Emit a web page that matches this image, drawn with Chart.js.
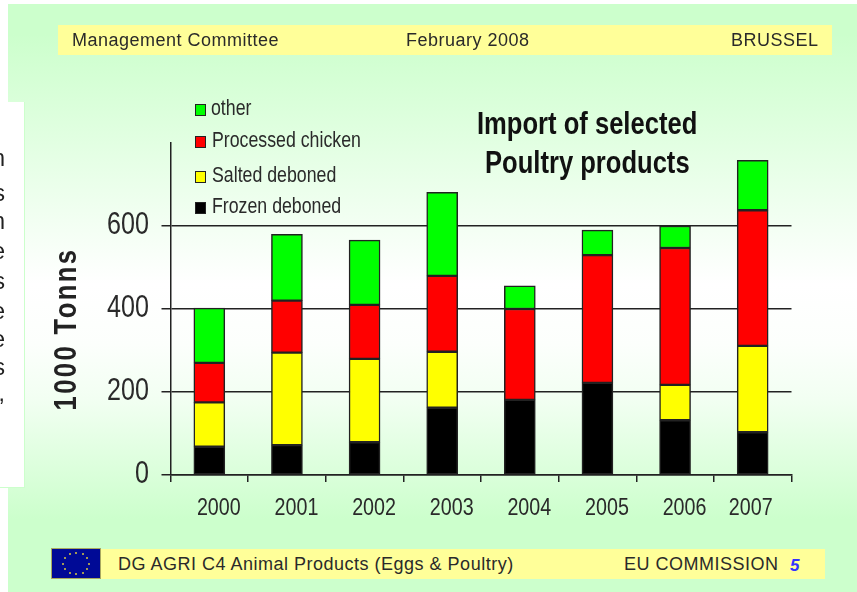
<!DOCTYPE html>
<html><head><meta charset="utf-8">
<script src="https://cdn.jsdelivr.net/npm/chart.js@4"></script>
<style>
html,body{margin:0;padding:0;background:#fff;width:857px;height:592px;overflow:hidden}
#stage{position:relative;width:857px;height:592px;overflow:hidden;filter:blur(.45px);font-family:"Liberation Sans",Arial,sans-serif;color:#2a2a2a}
#panel{position:absolute;left:8px;top:4px;width:849px;height:588px;background:linear-gradient(180deg,#ccffcc 0px,#ccffcc 30px,#ffffff 280px,#fcfffc 340px,#f2fff2 395px,#ccffcc 515px)}
.bar{position:absolute;background:#ffff99}
.t{position:absolute;white-space:nowrap;line-height:1;transform-origin:left top}
.hd{font-size:18px;letter-spacing:.5px}
#side{position:absolute;left:-2px;top:102px;width:26px;height:385px;background:#fff;border:solid #ccffcc;border-width:0 1.5px 1.5px 0;overflow:hidden}
#side span{position:absolute;right:19px;font-size:23px;color:#222;line-height:1}
canvas{position:absolute;left:0;top:0}
.k{position:absolute;width:11px;height:12px;border:1px solid #222;box-sizing:border-box}
.leg{font-size:21.5px;transform:scaleX(.825);color:#2a2a2a}
.ttl{font:bold 31px 'Liberation Sans';transform:scaleX(.825);color:#111}
#flag{position:absolute;left:51px;top:548px;width:50px;height:31px;background:#000a96;border:1px solid #a8a860;box-sizing:border-box}
#flag i{position:absolute;width:2px;height:2px;background:#d8c840;border-radius:50%}
</style></head><body><div id="stage">
<div id="panel"></div>
<div id="side"></div>
<div class="bar" style="left:58px;top:25px;width:774px;height:30px"></div>
<div class="t hd" style="left:72px;top:31px">Management Committee</div>
<div class="t hd" style="left:406px;top:31px">February 2008</div>
<div class="t hd" style="left:731px;top:31px">BRUSSEL</div>
<div class="t ttl" style="left:477px;top:106px">Import of selected</div>
<div class="t ttl" style="left:485px;top:145px">Poultry products</div>
<div class="t" style="left:64.5px;top:329px;font:bold 32px 'Liberation Sans';letter-spacing:3px;color:#222;transform-origin:center;transform:translate(-50%,-50%) rotate(-90deg) scaleX(.8)">1000 Tonns</div>
<canvas id="c" width="857" height="592"></canvas>
<div class="bar" style="left:51px;top:549px;width:774px;height:30px"></div>
<div id="flag"></div>
<div class="t hd" style="left:118px;top:555px">DG AGRI C4 Animal Products (Eggs &amp; Poultry)</div>
<div class="t hd" style="left:624px;top:555px">EU COMMISSION</div>
<div class="t" style="left:790px;top:556px;font:italic bold 17px 'Liberation Sans';color:#3333ff">5</div>
<div id="legend"></div>
</div>
<script>
const years = ["2000","2001","2002","2003","2004","2005","2006","2007"];
const frozenDeboned = [68,72,79,162,181,222,132,103];
const saltedDeboned = [107,223,201,135,null,null,85,208];
const processedChicken = [95,125,130,183,219,308,330,327];
const otherProducts = [132,160,156,201,56,60,53,120];
const yTicks = [0,200,400,600];
const legendNames = ["other","Processed chicken","Salted deboned","Frozen deboned"];
const legendColors = ["#00ff00","#ff0000","#ffff00","#000000"];
const sideEndings = ["n","s","n","e","s","e","e","s",","];

(function(){
  const rows=[110,142,177,208];
  const lg=document.getElementById('legend');
  legendNames.forEach((n,i)=>{
    const k=document.createElement('div');k.className='k';k.style.cssText=`left:195px;top:${rows[i]-6}px;background:${legendColors[i]}`;
    const t=document.createElement('div');t.className='t leg';t.textContent=n;t.style.cssText=`left:${i?212:211}px;top:${rows[i]-12}px`;
    lg.append(k,t);
  });
  const side=document.getElementById('side');
  const sideTops=[45,80,108,138,168,198,226,254,280];
  sideEndings.forEach((c,i)=>{const s=document.createElement('span');s.textContent=c;s.style.top=sideTops[i]+'px';side.append(s);});
  const flag=document.getElementById('flag');
  for(let a=0;a<12;a++){const d=document.createElement('i');const r=a*Math.PI/6;
    d.style.left=(23+13*Math.cos(r))+'px';d.style.top=(13.5+10.5*Math.sin(r))+'px';flag.append(d);}
})();

const FONT="'Liberation Sans'";
function squeezed(ctx,text,x,y,size,sx,align){
  ctx.save();ctx.translate(x,y);ctx.scale(sx,1);
  ctx.font=size+'px '+FONT;ctx.fillStyle='#2a2a2a';ctx.textAlign=align;ctx.textBaseline='middle';
  ctx.fillText(text,0,0);ctx.restore();
}
const tickText={
  id:'tickText',
  afterDraw(chart){
    const {ctx,scales:{x,y}}=chart;
    years.forEach((t,i)=>squeezed(ctx,t,x.getPixelForValue(i)+(i===7?-2:9.5),508,24,.82,'center'));
    yTicks.forEach(v=>squeezed(ctx,String(v),149,y.getPixelForValue(v)-1,31,.81,'right'));
  }
};
const ds=(label,data,color)=>({label,data,backgroundColor:color,borderColor:'#222',borderWidth:1.5,borderSkipped:false,barThickness:31,stack:'a'});
new Chart(document.getElementById('c'),{
  type:'bar',
  plugins:[tickText],
  data:{labels:years,datasets:[
    ds(legendNames[3],frozenDeboned,legendColors[3]),
    ds(legendNames[2],saltedDeboned,legendColors[2]),
    ds(legendNames[1],processedChicken,legendColors[1]),
    ds(legendNames[0],otherProducts,legendColors[0])
  ]},
  options:{
    responsive:false,animation:false,
    layout:{autoPadding:false,padding:{left:0,top:143,right:65.5,bottom:0}},
    plugins:{legend:{display:false},tooltip:{enabled:false},title:{display:false}},
    scales:{
      x:{stacked:true,
        afterFit(s){s.height=117;},
        grid:{display:true,drawOnChartArea:false,drawTicks:true,tickLength:7,color:'#222',lineWidth:1.5},
        border:{color:'#222',width:1.5},
        ticks:{display:false,autoSkip:false}},
      y:{stacked:true,min:0,max:800,
        afterFit(s){s.width=170.5;},
        afterBuildTicks(s){s.ticks=yTicks.map(v=>({value:v}));},
        grid:{color:'#222',lineWidth:1.5,tickLength:9},
        border:{color:'#222',width:1.5},
        ticks:{display:false}}
    }
  }
});
</script>
</body></html>
